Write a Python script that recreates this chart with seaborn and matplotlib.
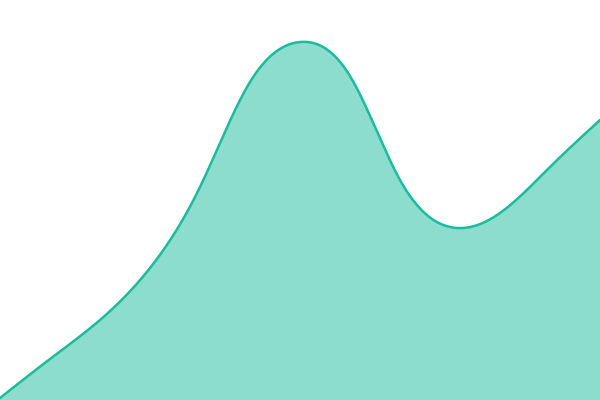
import numpy as np
import pandas as pd
import seaborn as sns
import matplotlib
matplotlib.use("Agg")
import matplotlib.pyplot as plt

# values (x position, height of the curve)
x_pts = [0, 50, 100, 150, 200, 250, 300, 350, 400, 450, 500, 550, 600]
y_pts = [2, 41, 80, 132, 213, 318, 358, 324, 220, 173, 187, 233, 280]

LINE = "#1abc9c"


def natural_spline(x, y, n=1200):
    # smooth curve through the points (natural cubic spline)
    x = np.asarray(x, float)
    y = np.asarray(y, float)
    h = np.diff(x)
    N = len(x)
    A = np.zeros((N, N))
    b = np.zeros(N)
    A[0, 0] = A[-1, -1] = 1
    for i in range(1, N - 1):
        A[i, i - 1] = h[i - 1]
        A[i, i] = 2 * (h[i - 1] + h[i])
        A[i, i + 1] = h[i]
        b[i] = 6 * ((y[i + 1] - y[i]) / h[i] - (y[i] - y[i - 1]) / h[i - 1])
    M = np.linalg.solve(A, b)
    xs = np.linspace(x[0], x[-1], n)
    k = np.clip(np.searchsorted(x, xs) - 1, 0, N - 2)
    a = x[k + 1] - xs
    c = xs - x[k]
    hk = h[k]
    ys = (M[k] * a**3 + M[k + 1] * c**3) / (6 * hk) \
        + (y[k] / hk - M[k] * hk / 6) * a + (y[k + 1] / hk - M[k + 1] * hk / 6) * c
    return xs, ys


xs, ys = natural_spline(x_pts, y_pts)
df = pd.DataFrame({"x": xs, "y": ys})

sns.set_style("white")
fig = plt.figure(figsize=(6, 4), dpi=100)
ax = fig.add_axes([0, 0, 1, 1])

ax.fill_between(df["x"], df["y"], 0, color=LINE, alpha=0.5, linewidth=0)
sns.lineplot(data=df, x="x", y="y", ax=ax, color=LINE, linewidth=1.8, sort=False)

ax.set_xlim(0, 600)
ax.set_ylim(0, 400)
ax.axis("off")

fig.savefig("out.png", dpi=100)
